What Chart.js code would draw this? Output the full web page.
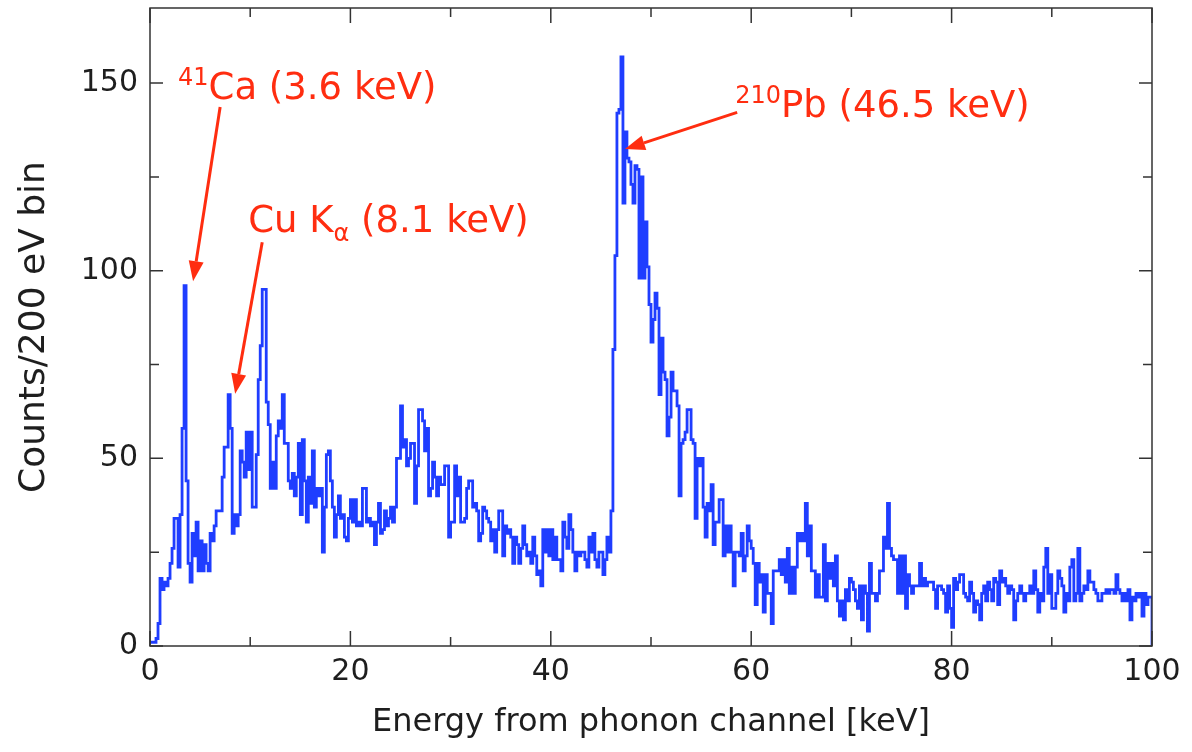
<!DOCTYPE html>
<html>
<head>
<meta charset="utf-8">
<title>Phonon channel energy spectrum</title>
<script src="https://cdn.jsdelivr.net/npm/chart.js@4.4.1/dist/chart.umd.min.js"></script>
<style>
  html, body { margin: 0; padding: 0; background: #fff; }
  #wrap { width: 1192px; height: 752px; }
</style>
</head>
<body>
<div id="wrap"><canvas id="spectrum" width="1192" height="752"></canvas></div>
<script>
// 200 eV bins from 0 to 100 keV
const binWidthKeV = 0.2;

const counts = [
  // 0 - 10 keV
  1, 1, 1, 2, 6, 18, 15, 17, 16, 18, 22, 26, 34, 34, 21, 35, 58, 96, 44, 22,
  17, 30, 24, 33, 20, 28, 20, 27, 22, 20, 30, 28, 32, 36, 36, 36, 45, 53, 53, 67,
  58, 30, 35, 32, 35, 52, 49, 45, 57, 47,
  // 10 - 20 keV
  57, 37, 37, 51, 71, 80, 95, 95, 65, 59, 42, 49, 42, 56, 60, 58, 67, 54, 54, 44,
  42, 46, 40, 45, 54, 35, 55, 44, 33, 45, 38, 52, 37, 42, 40, 42, 25, 37, 51, 52,
  44, 37, 29, 35, 40, 34, 35, 29, 28, 34,
  // 20 - 30 keV
  39, 33, 39, 32, 33, 32, 42, 42, 33, 34, 32, 33, 27, 33, 38, 30, 31, 36, 32, 34,
  37, 33, 37, 50, 50, 64, 53, 55, 48, 50, 54, 54, 38, 48, 63, 63, 60, 52, 58, 40,
  42, 49, 45, 40, 45, 43, 43, 48, 48, 29,
  // 30 - 40 keV
  33, 33, 48, 40, 45, 33, 33, 34, 42, 44, 44, 37, 38, 36, 28, 30, 37, 36, 34, 33,
  28, 31, 25, 31, 36, 36, 24, 32, 30, 31, 29, 22, 29, 27, 22, 26, 32, 27, 24, 25,
  22, 29, 24, 19, 20, 16, 31, 25, 31, 24,
  // 40 - 50 keV
  31, 23, 29, 23, 23, 20, 33, 29, 26, 35, 31, 25, 20, 25, 24, 25, 25, 23, 21, 29,
  25, 30, 23, 21, 25, 25, 19, 23, 29, 25, 36, 79, 104, 142, 143, 157, 118, 137, 130, 129,
  123, 118, 128, 127, 98, 125, 98, 113, 101, 91,
  // 50 - 60 keV
  81, 87, 94, 90, 67, 82, 73, 71, 56, 61, 73, 68, 68, 64, 40, 54, 55, 57, 63, 63,
  55, 54, 34, 50, 48, 50, 37, 29, 38, 36, 43, 27, 33, 33, 39, 39, 24, 32, 25, 32,
  25, 16, 25, 25, 24, 30, 20, 24, 32, 28,
  // 60 - 70 keV
  26, 22, 11, 22, 17, 19, 9, 19, 14, 14, 6, 20, 20, 20, 23, 19, 23, 17, 26, 14,
  21, 14, 21, 30, 28, 30, 28, 38, 24, 32, 20, 20, 13, 19, 13, 13, 27, 12, 22, 18,
  22, 16, 24, 12, 8, 12, 7, 15, 12, 18,
  // 70 - 80 keV
  17, 15, 12, 10, 16, 7, 16, 14, 4, 22, 14, 14, 12, 14, 20, 20, 29, 26, 38, 26,
  24, 23, 23, 14, 24, 14, 24, 10, 19, 16, 14, 16, 16, 16, 22, 16, 18, 16, 17, 17,
  17, 15, 10, 16, 16, 15, 14, 9, 16, 10,
  // 80 - 90 keV
  5, 18, 15, 17, 19, 19, 14, 13, 12, 17, 14, 9, 12, 11, 7, 14, 16, 12, 17, 15,
  12, 18, 17, 11, 20, 17, 18, 16, 14, 16, 15, 7, 12, 14, 16, 14, 12, 14, 14, 16,
  14, 20, 15, 9, 14, 12, 21, 26, 14, 19,
  // 90 - 100 keV
  10, 10, 14, 20, 18, 16, 9, 14, 12, 21, 23, 12, 14, 26, 12, 14, 16, 15, 20, 17,
  17, 15, 14, 12, 12, 14, 14, 15, 14, 15, 15, 14, 19, 15, 14, 12, 14, 12, 15, 7,
  13, 12, 14, 13, 14, 8, 14, 11, 13, 13
];

const xTicks = [0, 20, 40, 60, 80, 100];
const xMinorTicks = [10, 30, 50, 70, 90];
const yTicks = [0, 50, 100, 150];
const yMinorTicks = [25, 75, 125];

const axisColor = '#1e1e1e';
const lineColor = '#1f3dff';
const noteColor = '#ff2d10';
const fontFamily = '"DejaVu Sans", "Liberation Sans", sans-serif';

// peak annotations: text runs (with super/subscripts), anchor and arrow in data units
const peakNotes = [
  {
    at: [2.8, 145.7],
    runs: [{ text: '41', size: 24, shift: -14 }, { text: 'Ca (3.6 keV)', size: 37, shift: 0 }],
    arrow: { from: [7.0, 143.6], to: [4.3, 97.2] }
  },
  {
    at: [9.8, 110.2],
    runs: [
      { text: 'Cu K', size: 37, shift: 0 },
      { text: 'α', size: 24, shift: 9 },
      { text: ' (8.1 keV)', size: 37, shift: 0 }
    ],
    arrow: { from: [11.2, 107.6], to: [8.5, 67.2] }
  },
  {
    at: [58.4, 140.9],
    runs: [{ text: '210', size: 24, shift: -14 }, { text: 'Pb (46.5 keV)', size: 37, shift: 0 }],
    arrow: { from: [58.6, 142.2], to: [47.4, 132.4] }
  }
];

// histogram outline: each bin's left edge holds its value, closed down to zero at the end
const points = counts.map((c, i) => ({ x: i * binWidthKeV, y: c }));
const lastEdge = counts.length * binWidthKeV;
points.push({ x: lastEdge, y: counts[counts.length - 1] });
points.push({ x: lastEdge, y: 0 });

// box around the plot with inward ticks on all four sides
const framePlugin = {
  id: 'frame',
  afterDraw(chart) {
    const { ctx, chartArea: a, scales: { x, y } } = chart;
    ctx.save();
    ctx.strokeStyle = '#333';
    ctx.lineWidth = 1.5;
    ctx.strokeRect(a.left, a.top, a.right - a.left, a.bottom - a.top);
    ctx.beginPath();
    const xTick = (v, len) => {
      const px = x.getPixelForValue(v);
      ctx.moveTo(px, a.bottom); ctx.lineTo(px, a.bottom - len);
      ctx.moveTo(px, a.top); ctx.lineTo(px, a.top + len);
    };
    const yTick = (v, len) => {
      const py = y.getPixelForValue(v);
      ctx.moveTo(a.left, py); ctx.lineTo(a.left + len, py);
      ctx.moveTo(a.right, py); ctx.lineTo(a.right - len, py);
    };
    xTicks.forEach(v => xTick(v, 15));
    xMinorTicks.forEach(v => xTick(v, 9));
    yTicks.forEach(v => yTick(v, 13));
    yMinorTicks.forEach(v => yTick(v, 9));
    ctx.stroke();
    ctx.restore();
  }
};

const notesPlugin = {
  id: 'peakNotes',
  afterDraw(chart) {
    const { ctx, scales: { x, y } } = chart;
    ctx.save();
    ctx.fillStyle = noteColor;
    ctx.strokeStyle = noteColor;
    ctx.textBaseline = 'alphabetic';
    ctx.textAlign = 'left';
    peakNotes.forEach(n => {
      let px = x.getPixelForValue(n.at[0]);
      const base = y.getPixelForValue(n.at[1]);
      n.runs.forEach(r => {
        ctx.font = r.size + 'px ' + fontFamily;
        ctx.fillText(r.text, px, base + r.shift);
        px += ctx.measureText(r.text).width;
      });

      const x0 = x.getPixelForValue(n.arrow.from[0]);
      const y0 = y.getPixelForValue(n.arrow.from[1]);
      const x1 = x.getPixelForValue(n.arrow.to[0]);
      const y1 = y.getPixelForValue(n.arrow.to[1]);
      const ang = Math.atan2(y1 - y0, x1 - x0);
      const head = 20, half = 7.5;
      const bx = x1 - head * Math.cos(ang), by = y1 - head * Math.sin(ang);
      ctx.lineWidth = 3;
      ctx.beginPath();
      ctx.moveTo(x0, y0);
      ctx.lineTo(bx, by);
      ctx.stroke();
      ctx.beginPath();
      ctx.moveTo(x1, y1);
      ctx.lineTo(bx + half * Math.sin(ang), by - half * Math.cos(ang));
      ctx.lineTo(bx - half * Math.sin(ang), by + half * Math.cos(ang));
      ctx.closePath();
      ctx.fill();
    });
    ctx.restore();
  }
};

new Chart(document.getElementById('spectrum'), {
  type: 'line',
  data: {
    datasets: [{
      data: points,
      borderColor: lineColor,
      borderWidth: 2.8,
      stepped: 'before',
      pointRadius: 0,
      fill: false
    }]
  },
  options: {
    responsive: false,
    animation: false,
    devicePixelRatio: 1,
    layout: { padding: { top: 8, right: 40, left: 0, bottom: 0 } },
    plugins: { legend: { display: false }, tooltip: { enabled: false } },
    scales: {
      x: {
        type: 'linear',
        min: 0,
        max: 100,
        grid: { display: false, drawTicks: false },
        border: { display: false },
        ticks: { autoSkip: false, maxRotation: 0, padding: 8, color: axisColor, font: { family: fontFamily, size: 30 } },
        afterBuildTicks: s => { s.ticks = xTicks.map(v => ({ value: v })); },
        afterFit: s => { s.height = 106; s.paddingLeft = 0; s.paddingRight = 0; },
        title: {
          display: true,
          text: 'Energy from phonon channel [keV]',
          color: axisColor,
          padding: 13,
          font: { family: fontFamily, size: 32, lineHeight: 1 }
        }
      },
      y: {
        min: 0,
        max: 170,
        grid: { display: false, drawTicks: false },
        border: { display: false },
        ticks: { autoSkip: false, padding: 12, color: axisColor, font: { family: fontFamily, size: 30 } },
        afterBuildTicks: s => { s.ticks = yTicks.map(v => ({ value: v })); },
        afterFit: s => { s.width = 150; s.paddingTop = 0; s.paddingBottom = 0; },
        title: {
          display: true,
          text: 'Counts/200 eV bin',
          color: axisColor,
          padding: 17,
          font: { family: fontFamily, size: 36, lineHeight: 1 }
        }
      }
    }
  },
  plugins: [framePlugin, notesPlugin]
});
</script>
</body>
</html>
